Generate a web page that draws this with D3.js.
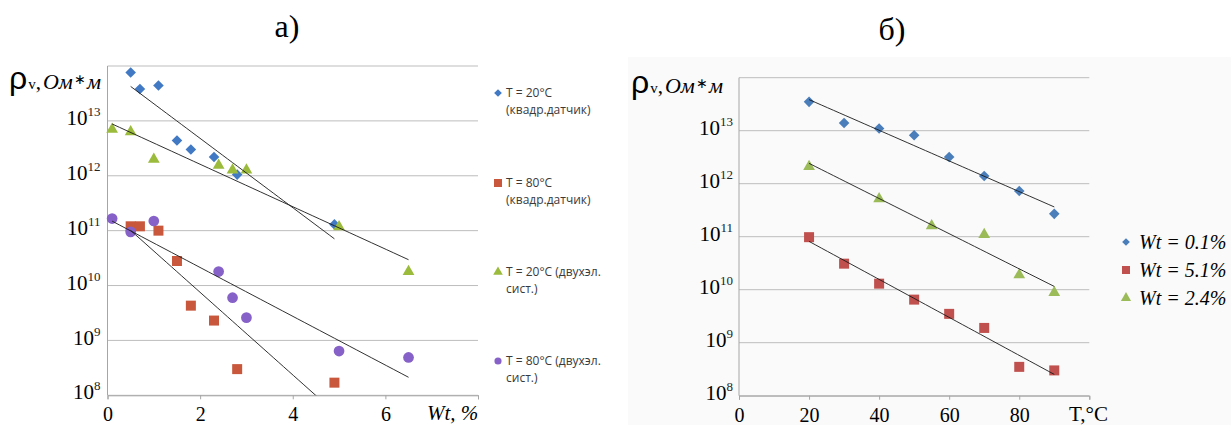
<!DOCTYPE html>
<html>
<head>
  <meta charset="utf-8">
  <title>Resistivity vs moisture and temperature</title>
  <script src="https://d3js.org/d3.v7.min.js"></script>
  <style>
    body {
      margin: 0;
      padding: 0;
      background: #ffffff;
    }
    svg text {
      fill: #000;
    }
    .grid line {
      stroke: #bdbdbd;
      stroke-width: 1;
    }
    .trend {
      fill: none;
      stroke: #1a1a1a;
      stroke-width: 0.9;
    }
  </style>
</head>
<body>
<svg id="chart" width="1231" height="425"></svg>
<script>
  // ---- left chart a): rho_v vs Wt, %
  const wtSquare = [0.5, 0.7, 1.1, 1.5, 1.8, 2.3, 2.8, 4.9];
  const rho20Square = [7.6e13, 3.8e13, 4.4e13, 4.4e12, 3.0e12, 2.2e12, 1.05e12, 1.3e11];
  const rho80Square = [1.2e11, 1.2e11, 1.0e11, 2.8e10, 4.3e9, 2.3e9, 3.0e8, 1.7e8];
  const wtTwoEl = [0.1, 0.5, 1.0, 2.4, 2.7, 3.0, 5.0, 6.5];
  const rho20TwoEl = [7.0e12, 6.3e12, 2.0e12, 1.55e12, 1.27e12, 1.27e12, 1.17e11, 1.8e10];
  const rho80TwoEl = [1.66e11, 9.5e10, 1.5e11, 1.8e10, 6.0e9, 2.6e9, 6.4e8, 4.9e8];
  const leftLegend = [
    ["T = 20°C", "(квадр.датчик)"],
    ["T = 80°C", "(квадр.датчик)"],
    ["T = 20°C (двухэл.", "сист.)"],
    ["T = 80°C (двухэл.", "сист.)"]
  ];
  const leftXTicks = [0, 2, 4, 6, 8];

  // ---- right chart б): rho_v vs T, °C
  const tempA = [20, 30, 40, 50, 60, 70, 80, 90];
  const rhoWt01 = [3.5e13, 1.4e13, 1.1e13, 8.2e12, 3.2e12, 1.4e12, 7.3e11, 2.7e11];
  const rhoWt51 = [9.8e10, 3.1e10, 1.3e10, 6.5e9, 3.5e9, 1.9e9, 3.5e8, 3.0e8];
  const tempB = [20, 40, 55, 70, 80, 90];
  const rhoWt24 = [2.1e12, 5.2e11, 1.6e11, 1.1e11, 1.9e10, 8.8e9];
  const rightLegend = ["Wt = 0.1%", "Wt = 5.1%", "Wt = 2.4%"];
  const rightXTicks = [0, 20, 40, 60, 80, 100];

  const decades = [1e8, 1e9, 1e10, 1e11, 1e12, 1e13, 1e14];

  const svg = d3.select("#chart");

  // marker shapes
  function markerPath(type, s) {
    if (type === "diamond") return d3.symbol(d3.symbolSquare, s)();
    if (type === "square") return d3.symbol(d3.symbolSquare, s)();
    if (type === "triangle") return d3.symbol(d3.symbolTriangle, s)();
    return d3.symbol(d3.symbolCircle, s)();
  }
  function markerTransform(type, x, y) {
    return type === "diamond" ? `translate(${x},${y}) rotate(45)` : `translate(${x},${y})`;
  }

  // exponential trendline (least squares on log10)
  function expFit(xs, ys) {
    const ly = ys.map(v => Math.log10(v));
    const mx = d3.mean(xs), my = d3.mean(ly);
    let sxy = 0, sxx = 0;
    xs.forEach((x, i) => { sxy += (x - mx) * (ly[i] - my); sxx += (x - mx) * (x - mx); });
    const b = sxy / sxx;
    return x => Math.pow(10, my + b * (x - mx));
  }

  function drawChart(cfg) {
    const g = svg.append("g");
    const x = d3.scaleLinear().domain(cfg.xDomain).range(cfg.xRange);
    const y = d3.scaleLog().domain([1e8, 1e14]).range(cfg.yRange);

    // gridlines
    g.append("g").attr("class", "grid")
      .selectAll("line").data(decades).enter().append("line")
      .attr("x1", cfg.xRange[0]).attr("x2", cfg.xRange[1])
      .attr("y1", d => y(d)).attr("y2", d => y(d));

    // vertical axis line
    g.append("line")
      .attr("x1", x(0)).attr("x2", x(0))
      .attr("y1", y(1e14)).attr("y2", y(1e8))
      .attr("stroke", "#a6a6a6").attr("stroke-width", 1);

    // x axis
    const xAxis = g.append("g")
      .attr("transform", `translate(0,${y(1e8)})`)
      .call(d3.axisBottom(x).tickValues(cfg.xTicks).tickSizeOuter(0).tickSize(4).tickPadding(8)
        .tickFormat(d => d === cfg.xTicks[cfg.xTicks.length - 1] ? "" : d));
    xAxis.select(".domain").attr("stroke", "#a6a6a6");
    xAxis.selectAll(".tick line").attr("stroke", "#a6a6a6");
    xAxis.selectAll(".tick text")
      .attr("font-family", "Liberation Serif, serif").attr("font-size", 20).attr("fill", "#000");

    // y axis with 10^n labels
    const yAxis = g.append("g")
      .attr("transform", `translate(${x(0)},0)`)
      .call(d3.axisLeft(y).tickValues(decades.slice(0, 6)).tickSize(0).tickPadding(cfg.yPad).tickFormat(""));
    yAxis.select(".domain").remove();
    yAxis.selectAll(".tick text")
      .attr("font-family", "Liberation Serif, serif").attr("fill", "#000")
      .attr("dy", "0.36em")
      .each(function (d) {
        const t = d3.select(this);
        t.append("tspan").attr("font-size", 21).text("10");
        t.append("tspan").attr("font-size", 13).attr("dy", -9).attr("fill", "#222")
          .text(Math.round(Math.log10(d)));
      });

    // y axis title
    const yt = g.append("text").attr("x", cfg.yTitle[0]).attr("y", cfg.yTitle[1])
      .attr("font-family", "Liberation Serif, serif");
    yt.append("tspan").attr("font-family", "Liberation Sans, sans-serif").attr("font-size", 32).text("ρ");
    yt.append("tspan").attr("font-size", 15).attr("dx", 1).text("v");
    yt.append("tspan").attr("font-size", 21).text(",");
    yt.append("tspan").attr("font-size", 22).attr("dx", 2).attr("font-style", "italic").text("Ом");
    yt.append("tspan").attr("font-size", 14).attr("dx", 1).attr("dy", -5).text("∗");
    yt.append("tspan").attr("font-size", 22).attr("dx", 1).attr("dy", 5).attr("font-style", "italic").text("м");

    // x axis title
    g.append("text").attr("x", cfg.xTitle[0]).attr("y", cfg.xTitle[1])
      .attr("font-family", "Liberation Serif, serif").attr("font-size", 21)
      .attr("font-style", cfg.xTitleItalic ? "italic" : "normal")
      .text(cfg.xTitleText);

    // markers
    cfg.series.forEach(s => {
      g.append("g").selectAll("path").data(s.xs.map((v, i) => [v, s.ys[i]])).enter()
        .append("path")
        .attr("d", markerPath(s.type, s.size))
        .attr("transform", d => markerTransform(s.type, x(d[0]), y(d[1])))
        .attr("fill", s.color);
    });

    // trendlines, clipped to the plot area
    const clipId = cfg.id + "-clip";
    g.append("clipPath").attr("id", clipId).append("rect")
      .attr("x", cfg.xRange[0]).attr("y", y(1e14))
      .attr("width", cfg.xRange[1] - cfg.xRange[0]).attr("height", y(1e8) - y(1e14));
    cfg.series.forEach(s => {
      const f = expFit(s.xs, s.ys);
      const xs = d3.range(0, 41).map(i => d3.min(s.xs) + (d3.max(s.xs) - d3.min(s.xs)) * i / 40);
      g.append("path").attr("class", "trend").attr("clip-path", `url(#${clipId})`)
        .attr("d", d3.line().x(v => x(v)).y(v => y(f(v)))(xs));
    });

    return { g, x, y };
  }

  // right panel background
  svg.append("rect").attr("x", 628).attr("y", 57).attr("width", 603).attr("height", 368)
    .attr("fill", "#fafafa");

  // titles
  svg.append("text").attr("x", 287).attr("y", 37).attr("text-anchor", "middle")
    .attr("font-family", "Liberation Serif, serif").attr("font-size", 32).text("а)");
  svg.append("text").attr("x", 892).attr("y", 40).attr("text-anchor", "middle")
    .attr("font-family", "Liberation Serif, serif").attr("font-size", 32).text("б)");

  const leftSeries = [
    { xs: wtSquare, ys: rho20Square, type: "diamond", size: 56, color: "#4179c4" },
    { xs: wtSquare, ys: rho80Square, type: "square", size: 100, color: "#c8573b" },
    { xs: wtTwoEl, ys: rho20TwoEl, type: "triangle", size: 60, color: "#9bbb3c" },
    { xs: wtTwoEl, ys: rho80TwoEl, type: "circle", size: 90, color: "#8661c8" }
  ];
  drawChart({
    id: "left",
    xDomain: [0, 8], xRange: [107.5, 478],
    yRange: [395.3, 66],
    xTicks: leftXTicks, yPad: 7,
    yTitle: [9, 89],
    xTitle: [427, 420], xTitleText: "Wt, %", xTitleItalic: true,
    series: leftSeries
  });

  const rightSeries = [
    { xs: tempA, ys: rhoWt01, type: "diamond", size: 56, color: "#4a7ebb" },
    { xs: tempA, ys: rhoWt51, type: "square", size: 100, color: "#c0504d" },
    { xs: tempB, ys: rhoWt24, type: "triangle", size: 60, color: "#9bbb59" }
  ];
  drawChart({
    id: "right",
    xDomain: [0, 100], xRange: [739, 1089.3],
    yRange: [395.7, 77.7],
    xTicks: rightXTicks, yPad: 6,
    yTitle: [631, 93],
    xTitle: [1069, 421], xTitleText: "T,°C", xTitleItalic: false,
    series: rightSeries
  });

  // left legend
  const legL = svg.append("g");
  const legLY = [93, 183, 272, 361];
  leftLegend.forEach((lines, i) => {
    const s = leftSeries[i];
    legL.append("path")
      .attr("d", markerPath(s.type, s.type === "square" ? 64 : (s.type === "diamond" ? 30 : 40)))
      .attr("transform", markerTransform(s.type, 498, legLY[i]))
      .attr("fill", s.color);
    lines.forEach((ln, j) => {
      legL.append("text").attr("x", 506).attr("y", legLY[i] + 4 + j * 17)
        .attr("font-family", "Open Sans, sans-serif").attr("font-size", 12)
        .style("fill", "#3a3a3a").text(ln);
    });
  });

  // right legend
  const legR = svg.append("g");
  const legRY = [242, 270, 298];
  rightLegend.forEach((ln, i) => {
    const s = rightSeries[i];
    legR.append("path")
      .attr("d", markerPath(s.type, s.type === "square" ? 64 : (s.type === "diamond" ? 30 : 45)))
      .attr("transform", markerTransform(s.type, 1126, legRY[i]))
      .attr("fill", s.color);
    legR.append("text").attr("x", 1139).attr("y", legRY[i] + 7)
      .attr("font-family", "Liberation Serif, serif").attr("font-size", 20)
      .attr("font-style", "italic").text(ln);
  });
</script>
</body>
</html>
